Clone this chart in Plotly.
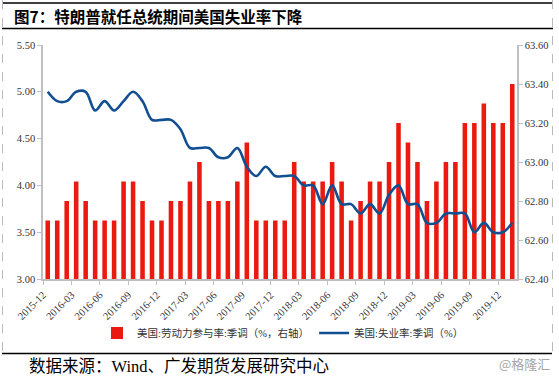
import plotly.graph_objects as go

months = ["2015-12", "2016-01", "2016-02", "2016-03", "2016-04", "2016-05", "2016-06", "2016-07",
          "2016-08", "2016-09", "2016-10", "2016-11", "2016-12", "2017-01", "2017-02", "2017-03",
          "2017-04", "2017-05", "2017-06", "2017-07", "2017-08", "2017-09", "2017-10", "2017-11",
          "2017-12", "2018-01", "2018-02", "2018-03", "2018-04", "2018-05", "2018-06", "2018-07",
          "2018-08", "2018-09", "2018-10", "2018-11", "2018-12", "2019-01", "2019-02", "2019-03",
          "2019-04", "2019-05", "2019-06", "2019-07", "2019-08", "2019-09", "2019-10", "2019-11",
          "2019-12", "2020-01"]

lfpr = [62.7, 62.7, 62.8, 62.9, 62.8, 62.7, 62.7, 62.7, 62.9, 62.9,
        62.8, 62.7, 62.7, 62.8, 62.8, 62.9, 63.0, 62.8, 62.8, 62.8,
        62.9, 63.1, 62.7, 62.7, 62.7, 62.7, 63.0, 62.9, 62.9, 62.9,
        63.0, 62.9, 62.7, 62.8, 62.9, 62.9, 63.0, 63.2, 63.1, 63.0,
        62.8, 62.9, 63.0, 63.0, 63.2, 63.2, 63.3, 63.2, 63.2, 63.4]

unemp = [5.0, 4.9, 4.9, 5.0, 5.0, 4.8, 4.9, 4.8, 4.9, 5.0,
         4.9, 4.7, 4.7, 4.7, 4.6, 4.4, 4.4, 4.4, 4.3, 4.3,
         4.4, 4.2, 4.1, 4.2, 4.1, 4.1, 4.1, 4.0, 4.0, 3.8,
         4.0, 3.8, 3.8, 3.7, 3.8, 3.7, 3.9, 4.0, 3.8, 3.8,
         3.6, 3.6, 3.7, 3.7, 3.7, 3.5, 3.6, 3.5, 3.5, 3.6]

tick_labels = ["2015-12", "2016-03", "2016-06", "2016-09", "2016-12", "2017-03", "2017-06",
               "2017-09", "2017-12", "2018-03", "2018-06", "2018-09", "2018-12", "2019-03",
               "2019-06", "2019-09", "2019-12"]

title_text = "图7：特朗普就任总统期间美国失业率下降"
source_text = "数据来源：Wind、广发期货发展研究中心"
watermark = "@格隆汇"
name_bar = "美国:劳动力参与率:季调（%，右轴）"
name_line = "美国:失业率:季调（%）"

FONT = "Liberation Serif, Noto Sans CJK SC, serif"
x_idx = list(range(len(months)))
tick_pos = [months.index(t) - 0.5 for t in tick_labels]

fig = go.Figure()
fig.add_trace(go.Bar(
    x=x_idx, y=lfpr, name=name_bar, yaxis="y",
    marker=dict(color="#EA1A10", line=dict(width=0)), width=0.48,
    hovertext=months,
))
fig.add_trace(go.Scatter(
    x=x_idx, y=unemp, name=name_line, yaxis="y2", mode="lines",
    line=dict(color="#114E92", width=2.6, shape="spline", smoothing=1),
    hovertext=months,
))

W, H = 559, 379
L, R, T, B = 43, 42, 45, 100
pw, ph = W - L - R, H - T - B


def px_x(px):
    return (px - L) / pw


def px_y(py):
    return (H - B - py) / ph


axis_col = "#BFBFBF"
tick_font = dict(family=FONT, size=10.5, color="#333333")

fig.update_layout(
    width=W, height=H,
    autosize=False,
    margin=dict(l=L, r=R, t=T, b=B, autoexpand=False),
    paper_bgcolor="white", plot_bgcolor="white",
    font=dict(family=FONT, color="#333333"),
    bargap=0.5,
    xaxis=dict(
        range=[-0.5, len(months) - 0.5], tickmode="array", tickvals=tick_pos, ticktext=tick_labels,
        tickangle=-45, ticks="outside", ticklen=4, tickcolor=axis_col, showline=True,
        linecolor=axis_col, linewidth=1.5, showgrid=False, zeroline=False, tickfont=tick_font,
        automargin=False,
    ),
    yaxis=dict(
        side="right", range=[62.4, 63.6], dtick=0.2, tickformat=".2f", ticks="outside",
        ticklen=4, tickcolor=axis_col, showline=True, linecolor=axis_col, linewidth=1.5,
        showgrid=False, zeroline=False, tickfont=tick_font, automargin=False,
    ),
    yaxis2=dict(
        overlaying="y", side="left", range=[3.0, 5.5], dtick=0.5, tickformat=".2f",
        ticks="outside", ticklen=4, tickcolor=axis_col, showline=True, linecolor=axis_col,
        linewidth=1.5, showgrid=False, zeroline=False, tickfont=tick_font, automargin=False,
    ),
    legend=dict(
        orientation="h", x=px_x(97), y=px_y(333),
        xanchor="left", yanchor="middle", font=dict(family=FONT, size=10.5, color="#333333"),
        bgcolor="rgba(0,0,0,0)", itemwidth=30, tracegroupgap=0,
    ),
    showlegend=True,
)

# frame lines
shapes = []
shapes.append(dict(type="line", xref="paper", yref="paper", x0=px_x(2), x1=px_x(553),
                   y0=px_y(3), y1=px_y(3), line=dict(color="black", width=1.5)))
shapes.append(dict(type="line", xref="paper", yref="paper", x0=px_x(2), x1=px_x(553),
                   y0=px_y(28.5), y1=px_y(28.5), line=dict(color="black", width=1.5)))
shapes.append(dict(type="line", xref="paper", yref="paper", x0=px_x(2), x1=px_x(552),
                   y0=px_y(353.5), y1=px_y(353.5), line=dict(color="black", width=1.5)))
for xx in (2.5, 552.5):
    shapes.append(dict(type="line", xref="paper", yref="paper", x0=px_x(xx), x1=px_x(xx),
                       y0=px_y(0), y1=px_y(353), line=dict(color="#BBBBBB", width=1, dash="dash")))
fig.update_layout(shapes=shapes)

fig.add_annotation(text="<b>" + title_text + "</b>", xref="paper", yref="paper",
                   x=px_x(12), y=px_y(15.5), xanchor="left", yanchor="middle", showarrow=False,
                   font=dict(family="Noto Sans CJK SC, serif", size=15.5, color="black"))
fig.add_annotation(text=source_text, xref="paper", yref="paper",
                   x=px_x(27), y=px_y(366), xanchor="left", yanchor="middle", showarrow=False,
                   font=dict(family=FONT, size=16.5, color="black"))
fig.add_annotation(text=watermark, xref="paper", yref="paper",
                   x=px_x(552), y=px_y(363), xanchor="right", yanchor="middle", showarrow=False,
                   font=dict(family="Noto Sans CJK SC, sans-serif", size=13, color="#A6A6A6"))

fig.write_html("out.html", config={"displayModeBar": False},
               post_script="document.body.style.margin='0';document.body.style.overflow='hidden';")
